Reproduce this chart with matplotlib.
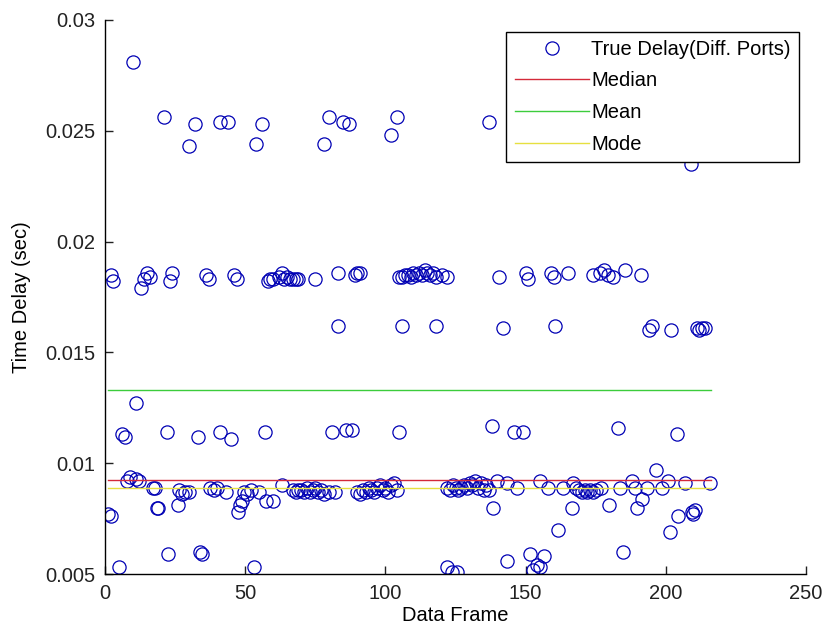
import numpy as np
import matplotlib
matplotlib.use("Agg")
import matplotlib.pyplot as plt

# delay per data frame, grouped by band
frame_top = [10, 21, 30, 32, 41, 44, 54, 56, 78, 80, 85, 87, 102, 104, 137, 209]
delay_top = [0.0281, 0.0256, 0.0243, 0.0253, 0.0254, 0.0254, 0.0244, 0.0253,
             0.0244, 0.0256, 0.0254, 0.0253, 0.0248, 0.0256, 0.0254, 0.0235]

frame_18 = [2, 3, 13, 14, 15, 16, 23, 24, 36, 37, 46, 47,
            58, 59, 60, 62, 63, 64, 65, 66, 67, 68, 69,
            75, 83, 89, 90, 91,
            105, 106, 107, 108, 109, 110, 111, 112, 113, 114, 115, 116, 117, 118, 120, 122,
            140.6, 150, 151, 159, 160, 165, 174, 176.5, 178, 179.5, 181, 185.5, 191]
delay_18 = [0.0185, 0.0182, 0.0179, 0.0183, 0.0186, 0.0184, 0.0182, 0.0186, 0.0185, 0.0183, 0.0185, 0.0183,
            0.0182, 0.0183, 0.0183, 0.0184, 0.0186, 0.0183, 0.0184, 0.0183, 0.0183, 0.0183, 0.0183,
            0.0183, 0.0186, 0.0185, 0.0186, 0.0186,
            0.0184, 0.0184, 0.0185, 0.0185, 0.0184, 0.0186, 0.0185, 0.0186, 0.0185, 0.0187, 0.0186, 0.0185,
            0.0186, 0.0184, 0.0185, 0.0184,
            0.0184, 0.0186, 0.0183, 0.0186, 0.0184, 0.0186, 0.0185, 0.0186, 0.0187, 0.0185, 0.0184, 0.0187, 0.0185]

frame_16 = [83, 106, 118, 142, 160.5, 194, 195, 202, 211, 212, 213, 214]
delay_16 = [0.0162, 0.0162, 0.0162, 0.0161, 0.0162, 0.0160, 0.0162, 0.0160, 0.0161, 0.0160, 0.0161, 0.0161]

frame_11 = [6, 7, 11, 22, 33, 41, 45, 57, 81, 86, 88, 105, 138, 146, 149, 183, 204]
delay_11 = [0.0113, 0.0112, 0.0127, 0.0114, 0.0112, 0.0114, 0.0111, 0.0114, 0.0114,
            0.0115, 0.0115, 0.0114, 0.0117, 0.0114, 0.0114, 0.0116, 0.0113]

frame_low = [1, 2, 5, 8, 9, 11, 12, 17, 18, 18.5, 19, 22.5, 26, 26.5, 27.5, 28.5, 30, 34, 34.5,
             37.5, 39, 40, 43, 47.5, 48, 49, 49.5, 50.5, 52, 53, 55, 57.5, 60, 63,
             67, 68, 69, 70, 71, 72, 73, 74, 75, 76, 77, 78, 80, 82,
             90, 91, 92, 93, 94, 95, 96, 97, 98, 99, 100, 101, 102, 103, 104,
             122, 123, 124, 125, 126, 127, 128, 129, 130, 131, 132, 133, 134, 135, 136, 137,
             139.7, 143.3, 146.8, 138.5, 155, 158, 163.4, 167, 168, 166.4, 161.7, 143.3,
             151.6, 156.6, 154, 152.7, 155.1, 121.9, 123.6, 125.4,
             169, 170, 171, 172, 173, 174, 175,
             177, 183.7, 187.8, 189, 193.2, 198.5, 196.5, 200.9, 206.8, 215.8,
             191.4, 189.6, 179.9, 204.5, 209.2, 210.4, 209.8, 201.5, 184.8]
delay_low = [0.0077, 0.0076, 0.0053, 0.0092, 0.0094, 0.0093, 0.0092, 0.0089, 0.0089, 0.0080, 0.0080,
             0.0059, 0.0081, 0.0088, 0.0086, 0.0087, 0.0087, 0.0060, 0.0059,
             0.0089, 0.0088, 0.0089, 0.0087, 0.0078, 0.0081, 0.0083, 0.0087, 0.0086, 0.0088, 0.0053,
             0.0087, 0.0083, 0.0083, 0.0090,
             0.0088, 0.0087, 0.0088, 0.0088, 0.0087, 0.0089, 0.0087, 0.0088, 0.0089, 0.0087, 0.0088,
             0.0086, 0.0087, 0.0087,
             0.0087, 0.0086, 0.0088, 0.0087, 0.0089, 0.0088, 0.0087, 0.0089, 0.0090, 0.0088, 0.0089,
             0.0087, 0.0090, 0.0091, 0.0088,
             0.0089, 0.0088, 0.0090, 0.0089, 0.0088, 0.0089, 0.0090, 0.0089, 0.0091, 0.0090, 0.0092,
             0.0089, 0.0091, 0.0088, 0.0090, 0.0088,
             0.0092, 0.0091, 0.0089, 0.0080, 0.0092, 0.0089, 0.0089, 0.0091, 0.0089, 0.0080, 0.0070,
             0.0056, 0.0059, 0.0058, 0.0054, 0.0052, 0.0053, 0.0053, 0.0051, 0.0051,
             0.0088, 0.0087, 0.0088, 0.0087, 0.0088, 0.0087, 0.0088,
             0.0089, 0.0089, 0.0092, 0.0089, 0.0089, 0.0089, 0.0097, 0.0092, 0.0091, 0.0091,
             0.0084, 0.0080, 0.0081, 0.0076, 0.0078, 0.0079, 0.0077, 0.0069, 0.0060]

median_delay = 0.00924
mean_delay = 0.0133
mode_delay = 0.0089
frame_span = [1, 216]

frames = np.concatenate([frame_top, frame_18, frame_16, frame_11, frame_low])
delays = np.concatenate([delay_top, delay_18, delay_16, delay_11, delay_low])

plt.rcParams['font.family'] = ['Liberation Sans', 'DejaVu Sans']
plt.rcParams['font.size'] = 14.5

fig = plt.figure(figsize=(8.25, 6.34), dpi=100)
ax = fig.add_axes([0.1273, 0.0946, 0.8497, 0.8739])

ax.plot(frames, delays, 'o', markerfacecolor='none', markeredgecolor='#0000b4',
        markersize=9.5, markeredgewidth=0.9, label='True Delay(Diff. Ports)')
ax.plot(frame_span, [median_delay] * 2, color='#d42a3a', lw=1.0, label='Median')
ax.plot(frame_span, [mean_delay] * 2, color='#3ccc3c', lw=1.0, label='Mean')
ax.plot(frame_span, [mode_delay] * 2, color='#e6e040', lw=1.0, label='Mode')

ax.set_xlim(0, 250)
ax.set_ylim(0.005, 0.03)
ax.set_xticks([0, 50, 100, 150, 200, 250])
ax.set_yticks([0.005, 0.01, 0.015, 0.02, 0.025, 0.03])
ax.set_yticklabels(['0.005', '0.01', '0.015', '0.02', '0.025', '0.03'])
ax.tick_params(direction='in', length=6, width=1, pad=7, colors='#222222')
for side in ('top', 'right'):
    ax.spines[side].set_visible(False)
for side in ('left', 'bottom'):
    ax.spines[side].set_linewidth(1.0)

ax.set_xlabel('Data Frame', labelpad=2)
ax.set_ylabel('Time Delay (sec)', labelpad=10)

leg = ax.legend(loc='upper right', bbox_to_anchor=(0.968, 0.95), bbox_transform=fig.transFigure,
                numpoints=1, handlelength=3.7, handletextpad=0.1, borderpad=0.4,
                labelspacing=0.63, borderaxespad=0, fancybox=False, framealpha=1,
                edgecolor='black')
leg.get_frame().set_linewidth(1.0)

fig.savefig('out.png', dpi=100)
